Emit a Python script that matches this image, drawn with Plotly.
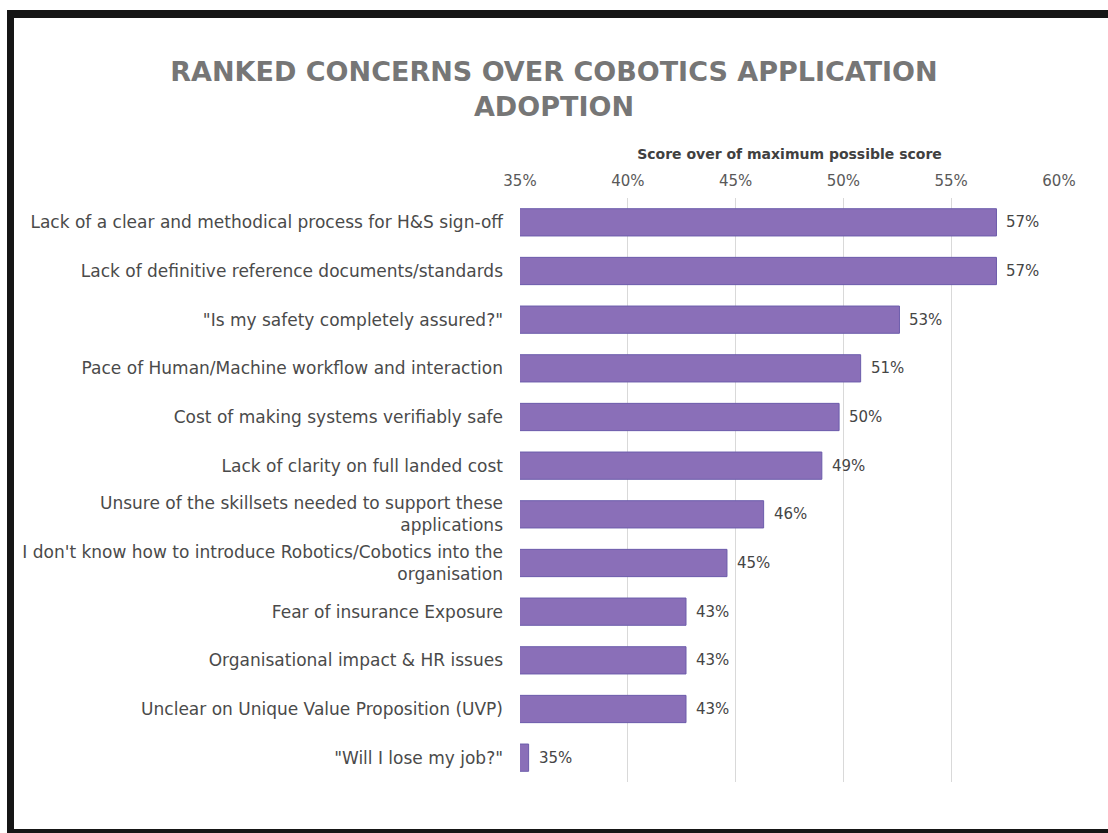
import plotly.graph_objects as go

categories = [
    "Lack of a clear and methodical process for H&S sign-off",
    "Lack of definitive reference documents/standards",
    "\"Is my safety completely assured?\"",
    "Pace of Human/Machine workflow and interaction",
    "Cost of making systems verifiably safe",
    "Lack of clarity on full landed cost",
    "Unsure of the skillsets needed to support these<br>applications",
    "I don't know how to introduce Robotics/Cobotics into the<br>organisation",
    "Fear of insurance Exposure",
    "Organisational impact & HR issues",
    "Unclear on Unique Value Proposition (UVP)",
    "\"Will I lose my job?\"",
]
scores = [57.1, 57.1, 52.6, 50.8, 49.8, 49.0, 46.3, 44.6, 42.7, 42.7, 42.7, 35.4]
tick_values = [35, 40, 45, 50, 55, 60]
tick_labels = ["35%", "40%", "45%", "50%", "55%", "60%"]
value_labels = ["57%", "57%", "53%", "51%", "50%", "49%", "46%", "45%", "43%", "43%", "43%", "35%"]

W, H = 1108, 833
ML, MR, MT, MB = 520, 49, 198, 51
PW, PH = W - ML - MR, H - MT - MB

def px(x):
    return (x - ML) / PW

def py(y):
    return (H - MB - y) / PH

fig = go.Figure()
fig.add_trace(go.Bar(
    y=categories, x=scores, base=0, orientation="h",
    marker=dict(color="#8a6fb8", line=dict(color="#6c5cab", width=1)),
    width=0.56,
    hoverinfo="skip",
))

for c, s, t in zip(categories, scores, value_labels):
    fig.add_annotation(x=s, y=c, xref="x", yref="y", text=t,
                       showarrow=False, xanchor="left", xshift=8,
                       font=dict(family="DejaVu Sans", size=15, color="#454545"))

shapes = [
    dict(type="rect", xref="paper", yref="paper", x0=px(7), x1=px(14), y0=py(833), y1=py(10),
         fillcolor="#161616", line=dict(width=0), layer="above"),
    dict(type="rect", xref="paper", yref="paper", x0=px(7), x1=px(1108), y0=py(18), y1=py(10),
         fillcolor="#161616", line=dict(width=0), layer="above"),
    dict(type="rect", xref="paper", yref="paper", x0=px(7), x1=px(1108), y0=py(833), y1=py(829),
         fillcolor="#161616", line=dict(width=0), layer="above"),
]

fig.update_layout(
    width=W, height=H,
    margin=dict(l=ML, r=MR, t=MT, b=MB, pad=0),
    paper_bgcolor="white", plot_bgcolor="white",
    showlegend=False,
    shapes=shapes,
    title=dict(text="RANKED CONCERNS OVER COBOTICS APPLICATION<br>ADOPTION",
               x=0.5, xref="container", xanchor="center",
               y=1 - 81 / H, yref="container", yanchor="top",
               font=dict(family="DejaVu Sans", size=27, color="#767676", weight="bold")),
    font=dict(family="DejaVu Sans", color="#454545"),
    xaxis=dict(range=[35, 60], side="top", tickmode="array", tickvals=tick_values, ticktext=tick_labels,
               showgrid=True, gridcolor="#d9d9d9", gridwidth=1, zeroline=False,
               showline=False, ticks="", ticklabelstandoff=8,
               tickfont=dict(family="DejaVu Sans", size=15, color="#595959"),
               title=dict(text="<b>Score over of maximum possible score</b>", standoff=9,
                          font=dict(family="DejaVu Sans", size=14, color="#404040"))),
    yaxis=dict(autorange="reversed", showgrid=False, ticks="", ticklabelstandoff=16,
               tickfont=dict(family="DejaVu Sans", size=17, color="#4a4a4a"),
               showline=False),
)

fig.write_html("out.html")
